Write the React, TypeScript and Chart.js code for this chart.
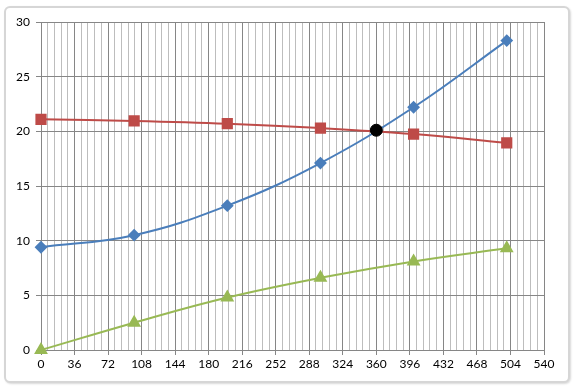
import React, { useEffect, useRef } from "react";
import { Chart, registerables } from "chart.js";

Chart.register(...registerables);

const xValues = [0, 100, 200, 300, 400, 500];
const blueSeries = [9.4, 10.5, 13.2, 17.1, 22.2, 28.3];
const redSeries = [21.1, 20.95, 20.7, 20.3, 19.75, 18.95];
const greenSeries = [0, 2.5, 4.8, 6.6, 8.1, 9.3];
const crossPoint = { x: 360, y: 20.1 };
const xMax = 540;
const xMinorStep = 7.2;
const yMax = 30;
const yStep = 5;

const isMajor = (v: number) => Math.round(v / xMinorStep) % 5 === 0;

export default function App() {
  const ref = useRef<HTMLCanvasElement | null>(null);
  useEffect(() => {
    document.body.style.margin = "0";
    const ctx = ref.current!;
    const font = { family: "Lato, 'Open Sans', sans-serif", size: 12 };
    const chart = new Chart(ctx, {
      type: "scatter",
      data: {
        datasets: [
          {
            data: [crossPoint],
            showLine: false,
            pointStyle: "circle",
            pointRadius: 6,
            backgroundColor: "#000000",
            borderColor: "#000000",
            clip: false as any,
          },
          {
            data: xValues.map((x, i) => ({ x, y: blueSeries[i] })),
            showLine: true,
            borderColor: "#4A7EBB",
            backgroundColor: "#4A7EBB",
            borderWidth: 2,
            tension: 0.4,
            pointStyle: "rectRot",
            pointRadius: 5,
            clip: false as any,
          },
          {
            data: xValues.map((x, i) => ({ x, y: redSeries[i] })),
            showLine: true,
            borderColor: "#BE4B48",
            backgroundColor: "#BE4B48",
            borderWidth: 2,
            tension: 0.4,
            pointStyle: "rect",
            pointRadius: 6.5,
            clip: false as any,
          },
          {
            data: xValues.map((x, i) => ({ x, y: greenSeries[i] })),
            showLine: true,
            borderColor: "#98B954",
            backgroundColor: "#98B954",
            borderWidth: 2,
            tension: 0.4,
            pointStyle: "triangle",
            pointRadius: 6,
            clip: false as any,
          },
        ],
      },
      options: {
        animation: false,
        responsive: false,
        maintainAspectRatio: false,
        layout: { padding: { left: 0, top: 22, right: 31, bottom: 0 } },
        plugins: {
          legend: { display: false },
          tooltip: { enabled: false },
        },
        scales: {
          x: {
            type: "linear",
            min: 0,
            max: xMax,
            afterBuildTicks: (scale: any) => {
              const t: any[] = [];
              const n = Math.round(xMax / xMinorStep);
              for (let i = 0; i <= n; i++) t.push({ value: +(i * xMinorStep).toFixed(4) });
              scale.ticks = t;
            },
            afterFit: (scale: any) => {
              scale.height = 41;
            },
            ticks: {
              autoSkip: false,
              maxRotation: 0,
              minRotation: 0,
              padding: 2,
              color: "#000000",
              font,
              callback: (v: any) => (isMajor(Number(v)) ? String(Math.round(Number(v))) : ""),
            },
            grid: {
              color: (c: any) => (isMajor(c.tick?.value ?? 0) ? "#868686" : "#bdbdbd"),
              tickColor: (c: any) => (isMajor(c.tick?.value ?? 0) ? "#868686" : "rgba(0,0,0,0)"),
              tickLength: 5,
              lineWidth: 1,
            },
            border: { color: "#868686" },
          },
          y: {
            type: "linear",
            min: 0,
            max: yMax,
            afterFit: (scale: any) => {
              scale.width = 41;
            },
            ticks: {
              stepSize: yStep,
              padding: 6,
              color: "#000000",
              font,
            },
            grid: {
              color: "#868686",
              tickColor: "#868686",
              tickLength: 5,
              lineWidth: 1,
            },
            border: { color: "#868686" },
          },
        },
      },
    });
    return () => chart.destroy();
  }, []);

  return (
    <div
      style={{
        position: "absolute",
        left: 0,
        top: 0,
        width: 575,
        height: 391,
        background: "#ffffff",
        overflow: "hidden",
      }}
    >
      <div
        style={{
          position: "absolute",
          left: 4,
          top: 6,
          width: 562,
          height: 373,
          border: "2px solid #d6d6d6",
          borderRadius: 6,
          background: "#ffffff",
          boxShadow: "1px 1px 2px rgba(0,0,0,0.15)",
        }}
      />
      <canvas
        ref={ref}
        width={575}
        height={391}
        style={{ position: "absolute", left: 0, top: 0, width: 575, height: 391 }}
      />
    </div>
  );
}
